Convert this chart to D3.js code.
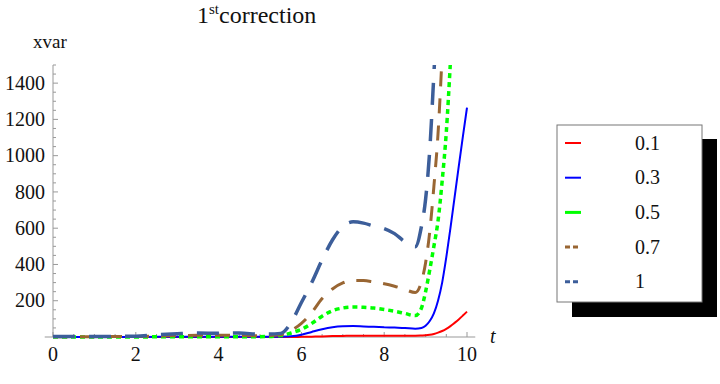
<!DOCTYPE html>
<html>
<head>
<meta charset="utf-8">
<script src="https://cdn.jsdelivr.net/npm/d3@7"></script>
<style>
  body { margin: 0; background: #fff; }
  text { font-family: "Times New Roman", "Liberation Serif", "DejaVu Serif", serif; }
</style>
</head>
<body>
<div id="chart"></div>
<script>
// time grid shared by all series
var tGrid = [0, 1, 2, 2.5, 3, 3.5, 4, 4.5, 5, 5.5, 5.75, 6, 6.25, 6.5, 6.75, 7, 7.25, 7.5, 7.75, 8,
    8.25, 8.5, 8.75, 8.9, 9, 9.1, 9.2, 9.3, 9.4, 9.5, 9.6, 9.7, 9.8, 9.9, 10];

var params = ['0.1', '0.3', '0.5', '0.7', '1'];

var xvar01 = [0, 0, 0, 0, 0, 0, 0, 0, 0, 0, 0, 1, 2, 3, 5, 6, 7, 7, 7, 7,
    7, 7, 7, 8, 9, 12, 17, 24, 33, 45, 60, 78, 97, 118, 140];
var xvar03 = [0, 0, 0, 1, 1, 1, 1, 1, 1, 2, 4, 12, 28, 43, 54, 59, 60, 58, 56, 54,
    52, 50, 46, 50, 62, 88, 130, 200, 300, 440, 600, 770, 940, 1105, 1265];
var xvar05 = [0, 0, 0, 1, 2, 2, 2, 2, 2, 8, 22, 42, 75, 115, 145, 160, 165, 164, 160, 152,
    142, 130, 118, 160, 250, 370, 500, 640, 860, 1130, 1520, null, null, null, null];
var xvar07 = [2, 2, 3, 5, 8, 9, 9, 9, 7, 12, 35, 75, 135, 212, 265, 298, 312, 311, 303, 294,
    280, 262, 245, 305, 410, 580, 830, 1120, 1560, null, null, null, null, null, null];
var xvar1 = [3, 3, 4, 12, 18, 22, 20, 22, 15, 20, 80, 190, 300, 425, 535, 610, 635, 628, 612, 598,
    570, 525, 498, 610, 760, 1030, 1450, 1900, null, null, null, null, null, null, null];

var xTicks = [0, 2, 4, 6, 8, 10];
var yTicks = [200, 400, 600, 800, 1000, 1200, 1400];

var seriesValues = [xvar01, xvar03, xvar05, xvar07, xvar1];
var colors = ['#ff0000', '#0000ff', '#00ff00', '#996633', '#3c5e9a'];
var widths = [2, 2, 3.5, 3, 3.5];
var dashes = [null, null, '5,4', '15,12', '22,14'];
var legendDashes = [null, null, null, '5,3', '5,3'];

var width = 720, height = 384;
var svg = d3.select('#chart').append('svg')
    .attr('width', width)
    .attr('height', height);

var xScale = d3.scaleLinear().domain([0, 10]).range([53, 467]);
var yScale = d3.scaleLinear().domain([0, 1500]).range([337, 65]);

// title
var title = svg.append('text')
    .attr('x', 197).attr('y', 23)
    .attr('fill', '#111')
    .attr('font-size', 24);
title.append('tspan').text('1');
title.append('tspan').attr('dy', -9).attr('font-size', 15).text('st');
title.append('tspan').attr('dy', 9).text('correction');

svg.append('text').attr('x', 33).attr('y', 48).attr('fill', '#111')
    .attr('font-size', 19).text('xvar');

// axes
var axisColor = '#999';
var axes = svg.append('g');
axes.append('line')
    .attr('x1', xScale(-0.2)).attr('x2', xScale(10.2))
    .attr('y1', yScale(0)).attr('y2', yScale(0))
    .attr('stroke', axisColor);
axes.append('line')
    .attr('x1', xScale(0)).attr('x2', xScale(0))
    .attr('y1', yScale(0)).attr('y2', yScale(1500))
    .attr('stroke', axisColor);

var xMinor = d3.range(0, 10.01, 0.5);
axes.selectAll('.xt').data(xMinor).join('line')
    .attr('x1', d => xScale(d)).attr('x2', d => xScale(d))
    .attr('y1', yScale(0))
    .attr('y2', d => yScale(0) - (d % 2 === 0 ? 5 : 3))
    .attr('stroke', axisColor);
axes.selectAll('.xl').data(xTicks).join('text')
    .attr('x', d => xScale(d)).attr('y', 361)
    .attr('text-anchor', 'middle')
    .attr('fill', '#111')
    .attr('font-size', 20)
    .text(d => d);

var yMinor = d3.range(50, 1501, 50);
axes.selectAll('.yt').data(yMinor).join('line')
    .attr('x1', xScale(0))
    .attr('x2', d => xScale(0) + (d % 200 === 0 ? 5 : 3))
    .attr('y1', d => yScale(d)).attr('y2', d => yScale(d))
    .attr('stroke', axisColor);
axes.selectAll('.yl').data(yTicks).join('text')
    .attr('x', 45).attr('y', d => yScale(d))
    .attr('dy', '0.33em')
    .attr('text-anchor', 'end')
    .attr('fill', '#111')
    .attr('font-size', 20)
    .text(d => d);

svg.append('text').attr('x', 490).attr('y', 343)
    .attr('fill', '#111')
    .attr('font-size', 20).attr('font-style', 'italic').text('t');

// lines
svg.append('clipPath').attr('id', 'plotclip')
    .append('rect')
    .attr('x', xScale(0)).attr('y', yScale(1500))
    .attr('width', xScale(10.2) - xScale(0))
    .attr('height', yScale(0) - yScale(1500) + 4);

var line = d3.line()
    .defined(d => d[1] != null)
    .x(d => xScale(d[0]))
    .y(d => yScale(d[1]))
    .curve(d3.curveMonotoneX);

var plot = svg.append('g').attr('clip-path', 'url(#plotclip)');
plot.selectAll('path').data(seriesValues).join('path')
    .attr('fill', 'none')
    .attr('stroke', (d, i) => colors[i])
    .attr('stroke-width', (d, i) => widths[i])
    .attr('stroke-dasharray', (d, i) => dashes[i])
    .attr('d', d => line(d.map((v, i) => [tGrid[i], v])));

// legend
var legend = svg.append('g');
legend.append('rect')
    .attr('x', 572).attr('y', 139).attr('width', 145).attr('height', 178)
    .attr('fill', '#000');
legend.append('rect')
    .attr('x', 557).attr('y', 125).attr('width', 145).attr('height', 177)
    .attr('fill', '#fff').attr('stroke', '#777');

var rows = legend.selectAll('g.row').data(params).join('g')
    .attr('transform', (d, i) => `translate(0,${143 + i * 34.7})`);
rows.append('line')
    .attr('x1', 565).attr('x2', 581)
    .attr('stroke', (d, i) => colors[i])
    .attr('stroke-width', (d, i) => i < 2 ? 2 : 3)
    .attr('stroke-dasharray', (d, i) => legendDashes[i]);
rows.append('text')
    .attr('x', 635).attr('dy', '0.33em')
    .attr('fill', '#111')
    .attr('font-size', 20)
    .text(d => d);
</script>
</body>
</html>
